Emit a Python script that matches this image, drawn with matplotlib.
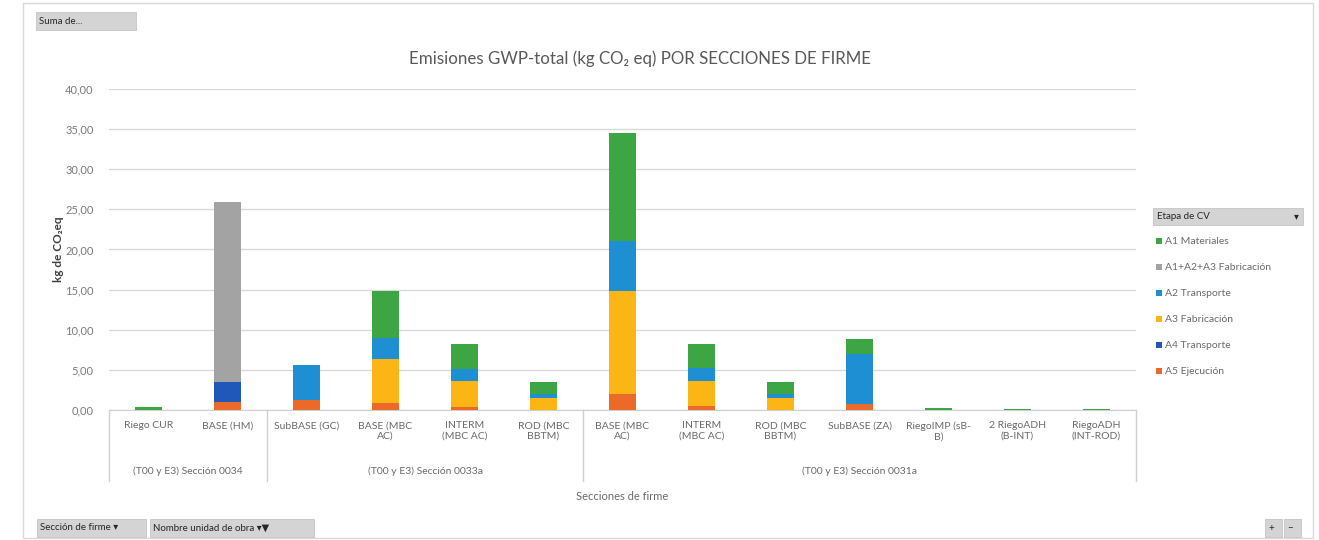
import matplotlib
matplotlib.use("Agg")
import matplotlib.pyplot as plt
from matplotlib.patches import Rectangle
import matplotlib.transforms as mtransforms
import numpy as np

plt.rcParams['font.family'] = ['Lato', 'DejaVu Sans']

# --- data -------------------------------------------------------------
categories = ["Riego CUR", "BASE (HM)",
              "SubBASE (GC)", "BASE (MBC\nAC)", "INTERM\n(MBC AC)", "ROD (MBC\nBBTM)",
              "BASE (MBC\nAC)", "INTERM\n(MBC AC)", "ROD (MBC\nBBTM)", "SubBASE (ZA)",
              "RiegoIMP (sB-\nB)", "2 RiegoADH\n(B-INT)", "RiegoADH\n(INT-ROD)"]
groups = ["(T00 y E3) Sección 0034", "(T00 y E3) Sección 0033a", "(T00 y E3) Sección 0031a"]
group_sizes = [2, 4, 7]

a1_materiales = [0.35, 0.0, 0.0, 5.80, 3.10, 1.40, 13.45, 3.00, 1.40, 1.95, 0.30, 0.12, 0.12]
a123_fabricacion = [0.0, 22.35, 0.0, 0.0, 0.0, 0.0, 0.0, 0.0, 0.0, 0.0, 0.0, 0.0, 0.0]
a2_transporte = [0.0, 0.0, 4.30, 2.65, 1.45, 0.55, 6.20, 1.55, 0.55, 6.20, 0.0, 0.0, 0.0]
a3_fabricacion = [0.0, 0.0, 0.0, 5.45, 3.25, 1.45, 12.85, 3.20, 1.45, 0.0, 0.0, 0.0, 0.0]
a4_transporte = [0.0, 2.60, 0.0, 0.0, 0.0, 0.0, 0.0, 0.0, 0.0, 0.0, 0.0, 0.0, 0.0]
a5_ejecucion = [0.0, 0.95, 1.30, 0.90, 0.40, 0.05, 2.00, 0.45, 0.05, 0.75, 0.0, 0.0, 0.0]

series_names = ["A1 Materiales", "A1+A2+A3 Fabricación", "A2 Transporte",
                "A3 Fabricación", "A4 Transporte", "A5 Ejecución"]
series_values = [a1_materiales, a123_fabricacion, a2_transporte,
                 a3_fabricacion, a4_transporte, a5_ejecucion]
series_colors = ["#3ea545", "#a3a3a3", "#1f8fd3", "#fbb514", "#1f58b8", "#ec6a29"]

yticks = [0, 5, 10, 15, 20, 25, 30, 35, 40]

# --- figure -----------------------------------------------------------
W, H = 1319, 540
fig = plt.figure(figsize=(W / 100, H / 100), dpi=100)
fig.patch.set_facecolor("white")


def fx(x):
    return x / W


def fy(y):
    return 1 - y / H


# outer frame
fig.patches.append(Rectangle((fx(23), fy(538)), fx(1313) - fx(23), fy(3) - fy(538),
                             transform=fig.transFigure, fill=False,
                             edgecolor="#d9d9d9", linewidth=1.0))

ax_left, ax_right, ax_top, ax_bottom = 109, 1136, 89, 410
ax = fig.add_axes([fx(ax_left), fy(ax_bottom), fx(ax_right) - fx(ax_left),
                   fy(ax_top) - fy(ax_bottom)])

x = np.arange(len(categories))
bottom = np.zeros(len(categories))
# stack from the last series upwards
for name, vals, col in reversed(list(zip(series_names, series_values, series_colors))):
    v = np.array(vals)
    ax.bar(x, v, width=0.33, bottom=bottom, color=col, label=name, zorder=3)
    bottom += v

ax.set_xlim(-0.5, len(categories) - 0.5)
ax.set_ylim(0, 40)
ax.set_yticks(yticks)
ax.set_yticklabels([f"{t:.2f}".replace(".", ",") for t in yticks])
ax.yaxis.grid(True, color="#d9d9d9", linewidth=1.0, zorder=0)
for s in ["top", "right", "left"]:
    ax.spines[s].set_visible(False)
ax.spines["bottom"].set_color("#d0d0d0")
ax.tick_params(axis="y", length=0, labelsize=8, labelcolor="#7a7a7a", pad=11)
ax.set_xticks(x)
ax.set_xticklabels(categories, fontsize=7.5, color="#6a6a6a", linespacing=1.25)
ax.tick_params(axis="x", length=0, pad=8)

ax.set_ylabel("kg de CO\u2082eq", fontsize=8.5, fontweight="bold", color="#404040",
              labelpad=1)

# group labels and separators below the category labels
trans = mtransforms.blended_transform_factory(ax.transData, ax.transAxes)
edges = np.concatenate([[0], np.cumsum(group_sizes)]) - 0.5
for e in edges:
    ax.plot([e, e], [0, -0.22], transform=trans, color="#d0d0d0", linewidth=1.0,
            clip_on=False)
for g, lo, hi in zip(groups, edges[:-1], edges[1:]):
    ax.text((lo + hi) / 2, -0.19, g, transform=trans, ha="center", va="center",
            fontsize=7.5, color="#6a6a6a")

fig.text(fx(622), fy(497), "Secciones de firme", ha="center", va="center",
         fontsize=8, color="#6a6a6a")

fig.text(fx(640), fy(59), "Emisiones GWP-total (kg CO\u2082 eq) POR SECCIONES DE FIRME",
         ha="center", va="center", fontsize=12.2, color="#595959")


# --- field buttons ----------------------------------------------------
def button(x0, y0, x1, y1, label, fs=7):
    fig.patches.append(Rectangle((fx(x0), fy(y1)), fx(x1) - fx(x0), fy(y0) - fy(y1),
                                 transform=fig.transFigure, facecolor="#d4d4d4",
                                 edgecolor="#c4c4c4", linewidth=0.6))
    if label:
        fig.text(fx(x0 + 3), fy((y0 + y1) / 2), label, ha="left", va="center",
                 fontsize=fs, color="#262626")


button(36, 12, 136, 30, "Suma de...")
button(37, 519, 146, 537, "Sección de firme \u25be")
button(150, 519, 314, 537, "Nombre unidad de obra \u25be\u25bc")
button(1265, 519, 1282, 537, "+")
button(1284, 519, 1301, 537, "\u2212")

# --- legend -----------------------------------------------------------
fig.patches.append(Rectangle((fx(1153), fy(225)), fx(1303) - fx(1153), fy(208) - fy(225),
                             transform=fig.transFigure, facecolor="#d4d4d4",
                             edgecolor="#c4c4c4", linewidth=0.6))
fig.text(fx(1157), fy(216.5), "Etapa de CV", ha="left", va="center", fontsize=7,
         color="#262626")
fig.text(fx(1296), fy(216.5), "\u25be", ha="center", va="center", fontsize=7,
         color="#262626")
for i, (name, col) in enumerate(zip(series_names, series_colors)):
    yy = 241 + i * 26
    fig.patches.append(Rectangle((fx(1156), fy(yy + 3)), fx(6), fy(0) - fy(6),
                                 transform=fig.transFigure, facecolor=col,
                                 edgecolor="none"))
    fig.text(fx(1165), fy(yy), name, ha="left", va="center", fontsize=7.5,
             color="#6a6a6a")

fig.savefig("out.png", dpi=100, facecolor="white")
